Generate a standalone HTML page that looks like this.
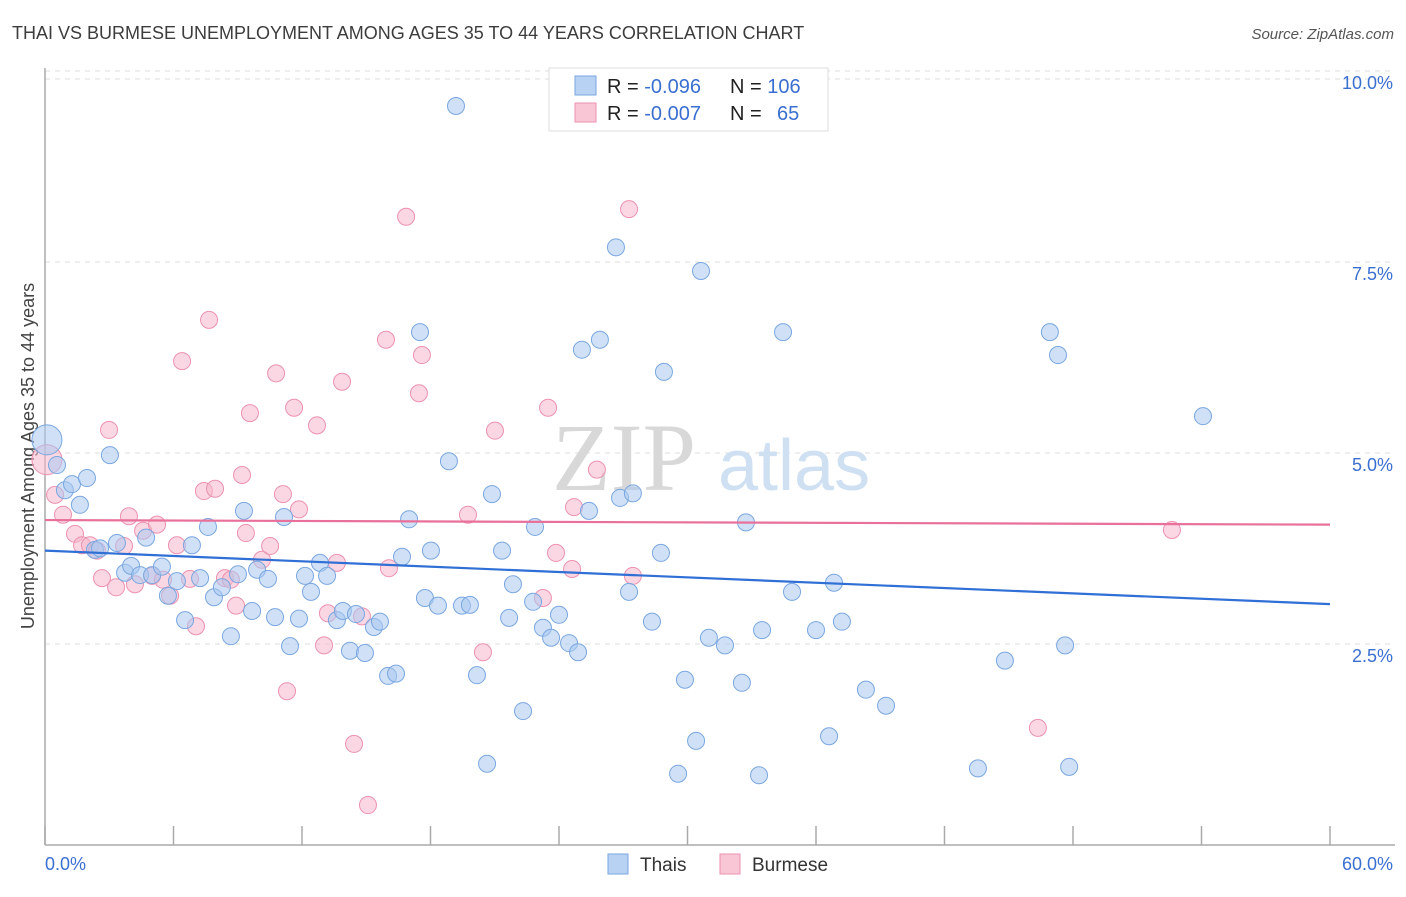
<!DOCTYPE html>
<html><head><meta charset="utf-8"><style>
body{margin:0;background:#fff;font-family:"Liberation Sans",sans-serif}
svg text{font-family:"Liberation Sans",sans-serif}
</style></head><body>
<svg id="chart" width="1406" height="892" xmlns="http://www.w3.org/2000/svg">
<text x="12" y="39" font-size="18" fill="#3c3c3c">THAI VS BURMESE UNEMPLOYMENT AMONG AGES 35 TO 44 YEARS CORRELATION CHART</text>
<text x="1394" y="39" font-size="15" fill="#555" font-style="italic" text-anchor="end">Source: ZipAtlas.com</text>
<text x="0" y="0" transform="translate(34,456) rotate(-90)" font-size="18" fill="#444" text-anchor="middle">Unemployment Among Ages 35 to 44 years</text>
<g id="grid"></g>
<g>
<text x="552" y="490" font-size="96" font-family="Liberation Serif,serif" fill="#d8d8d8" style="font-family:'Liberation Serif',serif">ZIP</text>
<text x="718" y="490" font-size="72" fill="#cfe0f3">atlas</text>
</g>
<g id="axes"></g>
<g id="lines"></g>
<g id="pts"></g>
<g>
<rect x="549" y="68" width="279" height="63" fill="#fff" stroke="#ddd"/>
<rect x="575" y="76" width="21" height="19" fill="#b8d2f3" stroke="#7aa7e0"/>
<rect x="575" y="103" width="21" height="19" fill="#f9c6d5" stroke="#ec92b0"/>
<text x="607" y="93" font-size="20" fill="#222">R = <tspan fill="#3a6fd0">-0.096</tspan><tspan x="730">N = </tspan><tspan fill="#3a6fd0">106</tspan></text>
<text x="607" y="120" font-size="20" fill="#222">R = <tspan fill="#3a6fd0">-0.007</tspan><tspan x="730">N = </tspan><tspan x="777" fill="#3a6fd0">65</tspan></text>
</g>
<g>
<rect x="608" y="854" width="20" height="20" fill="#b8d2f3" stroke="#7aa7e0"/>
<text x="640" y="871" font-size="19" fill="#333">Thais</text>
<rect x="720" y="854" width="20" height="20" fill="#f9c6d5" stroke="#ec92b0"/>
<text x="752" y="871" font-size="19" fill="#333">Burmese</text>
</g>
</svg>
<script>
const xTicks=[0,6,12,18,24,30,36,42,48,54,60];
const yTicks=[2.5,5,7.5,10];
const yTickLabels=["2.5%","5.0%","7.5%","10.0%"];
const xEndLabels=["0.0%","60.0%"];
const thaiX=[0.09,0.56,0.93,1.26,1.63,1.96,2.33,2.57,3.03,3.36,3.74,4.02,4.44,4.72,5.00,5.46,5.74,6.16,6.54,6.86,7.24,7.61,7.89,8.26,8.68,9.01,9.29,9.67,9.90,10.41,10.74,11.16,11.44,11.86,12.14,12.42,12.84,13.17,13.63,13.91,14.24,14.52,14.94,15.36,15.64,16.02,16.39,16.67,17.00,17.51,17.74,18.02,18.35,18.86,19.19,19.47,19.84,20.17,20.64,20.87,21.34,21.67,21.85,22.32,22.88,22.79,23.25,23.63,24.00,24.47,24.89,25.07,25.40,25.91,26.66,26.85,27.27,27.45,28.34,28.76,28.90,29.56,29.88,30.40,30.63,31.00,31.75,32.54,32.73,33.34,33.48,34.46,34.88,36.00,36.61,36.84,37.21,38.33,39.27,43.56,44.82,46.92,47.30,47.63,47.82,54.07];
const thaiY=[5.29,4.96,4.63,4.71,4.44,4.79,3.85,3.87,5.09,3.94,3.55,3.64,3.52,4.01,3.52,3.63,3.25,3.44,2.93,3.91,3.48,4.15,3.23,3.36,2.72,3.53,4.36,3.05,3.59,3.47,2.97,4.28,2.59,2.95,3.51,3.30,3.68,3.51,2.93,3.05,2.53,3.01,2.50,2.84,2.91,2.20,2.23,3.76,4.25,6.70,3.22,3.84,3.12,5.01,9.66,3.12,3.13,2.21,1.05,4.58,3.84,2.96,3.40,1.74,4.15,3.17,2.83,2.70,3.00,2.63,2.51,6.47,4.36,6.60,7.81,4.53,3.30,4.59,2.91,3.81,6.18,0.92,2.15,1.35,7.50,2.70,2.60,2.11,4.21,0.90,2.80,6.70,3.30,2.80,1.41,3.42,2.91,2.02,1.81,0.99,2.40,6.70,6.40,2.60,1.01,5.60];
const burX=[0.09,0.47,0.84,1.40,1.73,2.10,2.43,2.66,2.99,3.32,3.69,3.92,4.20,4.58,5.00,5.23,5.51,5.84,6.16,6.40,6.77,7.05,7.42,7.66,7.94,8.40,8.68,8.92,9.20,9.38,9.57,10.13,10.51,10.79,11.11,11.30,11.63,11.86,12.70,13.03,13.21,13.63,13.87,14.43,14.80,15.08,15.92,16.06,16.86,17.46,17.60,19.75,20.45,21.01,23.25,23.49,23.86,24.61,24.70,25.77,27.27,27.45,46.36,52.62];
const burY=[5.03,4.57,4.31,4.06,3.91,3.91,3.84,3.48,5.42,3.36,3.90,4.29,3.40,4.10,3.51,4.18,3.46,3.25,3.91,6.32,3.47,2.85,4.62,6.86,4.65,3.48,3.46,3.12,4.83,4.07,5.64,3.72,3.90,6.16,4.58,2.00,5.71,4.38,5.48,2.60,3.02,3.68,6.05,1.31,2.98,0.51,6.60,3.61,8.21,5.90,6.40,4.31,2.51,5.41,3.22,5.71,3.81,3.60,4.41,4.90,8.31,3.51,1.52,4.11];
const thaiTrend=[3.84,3.14];
const burTrend=[4.24,4.18];
const NS="http://www.w3.org/2000/svg";
const X0=45,X1=1330,YB=844,PX=76.4;
const sx=v=>X0+(v/60)*(X1-X0);
const sy=v=>YB-v*PX;
function mk(tag,attrs,parent){const e=document.createElementNS(NS,tag);for(const k in attrs)e.setAttribute(k,attrs[k]);parent.appendChild(e);return e;}
const grid=document.getElementById('grid'),axes=document.getElementById('axes');
yTicks.forEach((t,i)=>{
 const l=mk('line',{x1:X0,x2:1395,y1:sy(t)-9,y2:sy(t)-9,stroke:'#ddd','stroke-dasharray':'5,5'},grid);
 
 
 const tx=mk('text',{x:1393,y:sy(t)+9,'font-size':18,fill:'#3a6fd0','text-anchor':'end'},axes);
 tx.textContent=yTickLabels[i];
 
 
});
const topg=mk('line',{x1:X0,x2:1395,y1:79,y2:79,stroke:'#ddd','stroke-dasharray':'5,5'},grid);


const ya=mk('line',{x1:X0,x2:X0,y1:68,y2:845,stroke:'#aaa','stroke-width':1.5},axes);


const xa=mk('line',{x1:X0,x2:1395,y1:845,y2:845,stroke:'#aaa','stroke-width':1.5},axes);


xTicks.forEach(t=>{
 const l=mk('line',{x1:sx(t),x2:sx(t),y1:826,y2:845,stroke:'#aaa','stroke-width':1.5},axes);
 
 
});
const xl0=mk('text',{x:45,y:870,'font-size':18,fill:'#3a6fd0'},axes);
xl0.textContent=xEndLabels[0];


const xl1=mk('text',{x:1393,y:870,'font-size':18,fill:'#3a6fd0','text-anchor':'end'},axes);
xl1.textContent=xEndLabels[1];


const pts=document.getElementById('pts');
function drawSeries(xs,ys,fill,stroke,name){
 xs.forEach((x,i)=>{
  const c=mk('circle',{cx:sx(x),cy:sy(ys[i]),r:i===0?15:8.5,fill:fill,'fill-opacity':0.55,stroke:stroke,'stroke-width':1},pts);
  
  
 });
}
drawSeries(burX,burY,'#f6b6ca','#ec92b0','burmese-point');
drawSeries(thaiX,thaiY,'#a9c8f0','#7aa7e0','thai-point');
const lines=document.getElementById('lines');
const lt=mk('line',{x1:sx(0),x2:sx(60),y1:sy(thaiTrend[0]),y2:sy(thaiTrend[1]),stroke:'#2f6fd6','stroke-width':2.2},lines);


const lb=mk('line',{x1:sx(0),x2:sx(60),y1:sy(burTrend[0]),y2:sy(burTrend[1]),stroke:'#e8709a','stroke-width':2.2},lines);


document.getElementById('chart').appendChild(lines);
</script>
</body></html>
